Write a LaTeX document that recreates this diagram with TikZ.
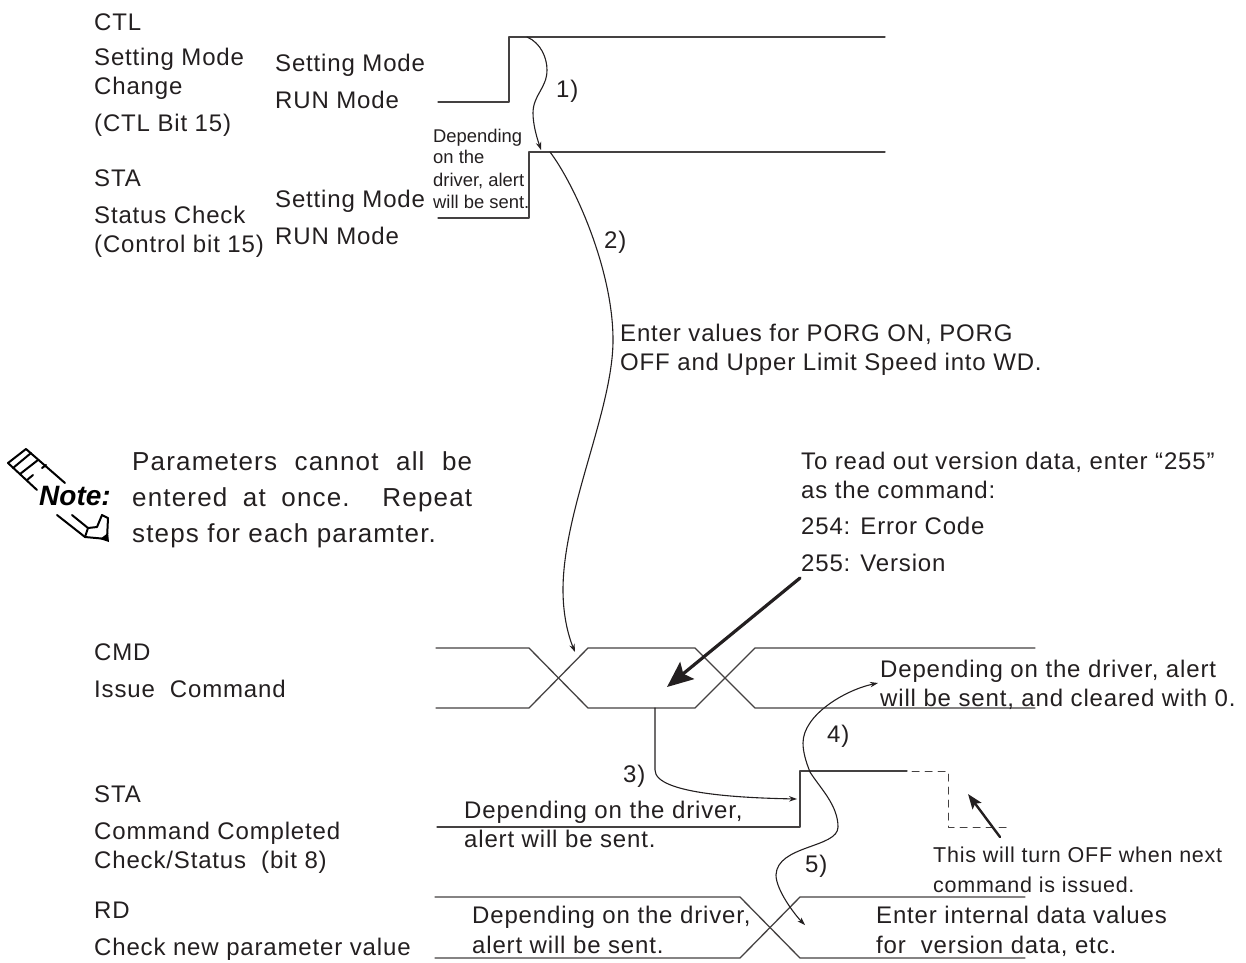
\documentclass[tikz,border=0pt]{standalone}
\usepackage{fontspec}
\setmainfont{Liberation Sans}
\newfontfamily\lblfont[LetterSpace=3.5]{Liberation Sans}
\newfontfamily\parfont[LetterSpace=4.5]{Liberation Sans}
\usetikzlibrary{arrows.meta}
\definecolor{ink}{HTML}{231F20}
\newcommand{\fitline}[1]{\makebox[340pt][s]{#1}}
\tikzset{
  lbl/.style={anchor=base west,inner sep=0pt,text=ink,font=\lblfont\fontsize{24}{28}\selectfont},
  par/.style={lbl,font=\parfont\fontsize{26}{30}\selectfont},
  small/.style={lbl,font=\rmfamily\fontsize{18.4}{22}\selectfont},
  smallb/.style={lbl,font=\lblfont\fontsize{21.5}{25}\selectfont},
  wave/.style={line width=1.3pt,draw=ink!85},
  flow/.style={line width=1.1pt,draw=ink,-{Stealth[length=8pt,width=5.5pt]}},
  pointer/.style={line width=3.2pt,draw=ink,-{Stealth[length=26pt,width=22pt,inset=5pt]}},
  pencil/.style={line width=2pt,draw=black}
}
\begin{document}
\begin{tikzpicture}[x=1pt,y=-1pt,line cap=round,line join=round]
  \useasboundingbox (0,0) rectangle (1246,962);

  \coordinate (CtlRise) at (527,37);
  \coordinate (StaHigh) at (541,150);
  \coordinate (StaLeave) at (550,152);
  \coordinate (CmdCross) at (575,652);
  \coordinate (CmdLeave) at (655,708);
  \coordinate (DoneEdge) at (797,799);
  \coordinate (DoneRise) at (810,772);
  \coordinate (AlertEnd) at (878,683);
  \coordinate (RdEnd) at (805,925);

  \draw[wave] (438,102) -- (509,102) -- (509,37) -- (885,37);
  \draw[wave] (438,218) -- (529,218) -- (529,152) -- (885,152);
  \draw[wave] (436,648) -- (529,648) -- (588,708) -- (695,708) -- (755,648) -- (1035,648);
  \draw[wave] (436,708) -- (529,708) -- (588,648) -- (695,648) -- (755,708) -- (1035,708);
  \draw[wave] (437,827) -- (800,827) -- (800,771) -- (907,771);
  \draw[wave,line width=1pt,dash pattern=on 7pt off 6pt] (912,771) -- (948,771) -- (948,827) -- (1012,827);
  \draw[wave] (435,897) -- (740,897) -- (800,958) -- (1025,958);
  \draw[wave] (435,958) -- (740,958) -- (800,897) -- (1025,897);

  \draw[flow] (CtlRise) .. controls (541,43) and (547,58) .. (547,70)
    .. controls (547,88) and (533,95) .. (533,113) .. controls (533,125) and (537,138) .. (StaHigh);
  \draw[flow] (StaLeave) .. controls (575,185) and (613,270) .. (613,340)
    .. controls (613,410) and (563,510) .. (563,590) .. controls (563,615) and (568,635) .. (CmdCross);
  \draw[flow] (CmdLeave) -- (655,770) .. controls (655,795) and (750,798) .. (DoneEdge);
  \draw[flow] (DoneRise) .. controls (806,762) and (803,752) .. (803,743)
    .. controls (803,715) and (845,690) .. (AlertEnd);
  \draw[flow] (DoneRise) .. controls (820,788) and (838,805) .. (838,827)
    .. controls (838,848) and (777,845) .. (776,875) .. controls (776,890) and (795,915) .. (RdEnd);

  \draw[pointer] (800,578) -- (667,687);
  \draw[line width=2.4pt,draw=ink,-{Stealth[length=15pt,width=11pt,inset=3pt]}] (1000,837) -- (968,794);

  \draw[pencil] (37,490) -- (8,463) -- (26,449) -- (65,483);
  \draw[pencil] (13,468) -- (31,453);
  \draw[pencil] (20,474) -- (38,460);
  \draw[pencil] (27,480) -- (33,475) (42,468) -- (46,465);
  \draw[pencil] (57,515) -- (85,537) -- (107,539) -- (108,518) -- (102,515) -- (97,527) -- (88,528) -- (72,515);
  \draw[pencil] (85,537) -- (88,528);
  \fill[black] (109,542) -- (100,539) -- (108,533) -- cycle;

  \node[lbl] (ctlName) at (94,30) {CTL};
  \node[lbl] (ctlTitleA) at (94,65) {Setting Mode};
  \node[lbl] (ctlTitleB) at (94,94) {Change};
  \node[lbl] (ctlTitleC) at (94,131) {(CTL Bit 15)};
  \node[lbl] (ctlHigh) at (275,71) {Setting Mode};
  \node[lbl] (ctlLow) at (275,108) {RUN Mode};
  \node[lbl] (stepA) at (556,97) {1)};
  \node[small] (alertA) at (433,142) {Depending};
  \node[small] (alertB) at (433,163) {on the};
  \node[small] (alertC) at (433,186) {driver, alert};
  \node[small] (alertD) at (433,208) {will be sent.};
  \node[lbl] (staName) at (94,186) {STA};
  \node[lbl] (staTitleA) at (94,223) {Status Check};
  \node[lbl] (staTitleB) at (94,252) {(Control bit 15)};
  \node[lbl] (staHigh) at (275,207) {Setting Mode};
  \node[lbl] (staLow) at (275,244) {RUN Mode};
  \node[lbl] (stepB) at (604,248) {2)};
  \node[lbl] (enterA) at (620,341) {Enter values for PORG ON, PORG};
  \node[lbl] (enterB) at (620,370) {OFF and Upper Limit Speed into WD.};
  \node[anchor=base west,inner sep=0pt,font=\bfseries\itshape\fontsize{28}{30}\selectfont] (noteMark) at (39,505) {Note:};
  \node[par] (noteA) at (132,470) {\fitline{Parameters cannot all be}};
  \node[par] (noteB) at (132,506) {\fitline{entered at once. Repeat}};
  \node[par] (noteC) at (132,542) {steps for each paramter.};
  \node[lbl] (readA) at (801,469) {To read out version data, enter “255”};
  \node[lbl] (readB) at (801,498) {as the command:};
  \node[lbl] (readC) at (801,534) {254: Error Code};
  \node[lbl] (readD) at (801,571) {255: Version};
  \node[lbl] (cmdName) at (94,660) {CMD};
  \node[lbl] (cmdTitle) at (94,697) {Issue\ \ Command};
  \node[lbl] (clearA) at (880,677) {Depending on the driver, alert};
  \node[lbl] (clearB) at (880,706) {will be sent, and cleared with 0.};
  \node[lbl] (stepC) at (623,782) {3)};
  \node[lbl] (stepD) at (827,742) {4)};
  \node[lbl] (stepE) at (805,872) {5)};
  \node[lbl] (doneName) at (94,802) {STA};
  \node[lbl] (doneTitleA) at (94,839) {Command Completed};
  \node[lbl] (doneTitleB) at (94,868) {Check/Status\ \ (bit 8)};
  \node[lbl] (doneAlertA) at (464,818) {Depending on the driver,};
  \node[lbl] (doneAlertB) at (464,847) {alert will be sent.};
  \node[smallb] (offA) at (933,862) {This will turn OFF when next};
  \node[smallb] (offB) at (933,892) {command is issued.};
  \node[lbl] (rdName) at (94,918) {RD};
  \node[lbl] (rdTitle) at (94,955) {Check new parameter value};
  \node[lbl] (rdAlertA) at (472,923) {Depending on the driver,};
  \node[lbl] (rdAlertB) at (472,953) {alert will be sent.};
  \node[lbl] (rdDataA) at (876,923) {Enter internal data values};
  \node[lbl] (rdDataB) at (876,953) {for\ \ version data, etc.};
\end{tikzpicture}
\end{document}
